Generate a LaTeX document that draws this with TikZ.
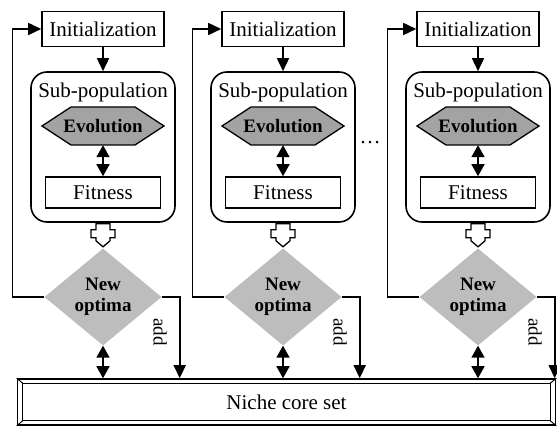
\documentclass[tikz,border=0pt]{standalone}
\usepackage{fontspec}
\setmainfont{Liberation Serif}
\usetikzlibrary{shapes.geometric,arrows.meta}

\tikzset{
  box/.style={draw, line width=1.6pt, inner sep=0pt},
  flow/.style={line width=1.6pt, -{Triangle[length=13pt,width=12pt]}},
  twoway/.style={line width=1.6pt, {Triangle[length=12pt,width=13pt]}-{Triangle[length=12pt,width=13pt]}},
  boldtxt/.style={font=\fontsize{19}{23}\selectfont\bfseries},
}

\begin{document}
\begin{tikzpicture}[x=1pt,y=-1pt,every node/.style={font=\fontsize{21}{24}\selectfont}]
\useasboundingbox (0,0) rectangle (557,427);

% niche core set
\node[box, minimum width=538, minimum height=46] (niche) at (286.5,402) {Niche core set};
\draw[line width=1.3pt] ([shift={(6,5)}]niche.north west) rectangle ([shift={(-6,-5)}]niche.south east);
\draw[line width=1pt] (niche.north west) -- ++(6,5);
\draw[line width=1pt] (niche.south west) -- ++(6,-5);
\draw[line width=1pt] (niche.north east) -- ++(-6,5);
\draw[line width=1pt] (niche.south east) -- ++(-6,-5);

\foreach \i/\x in {1/103,2/283,3/478} {
  \node[box, minimum width=122, minimum height=35] (init\i) at (\x,29) {Initialization};
  \node[box, rounded corners=16, minimum width=144, minimum height=150] (sub\i) at (\x,147) {};
  \node (name\i) at (\x,92) {Sub-population};
  % hexagon
  \filldraw[fill=gray!72, line width=1.3pt] (\x-61,126) -- (\x-32,107) -- (\x+32,107) -- (\x+61,126) -- (\x+32,145) -- (\x-32,145) -- cycle;
  \node[boldtxt, minimum width=122, minimum height=38, inner sep=0pt] (evo\i) at (\x,126) {Evolution};
  \node[box, minimum width=115, minimum height=31] (fit\i) at (\x,192.5) {Fitness};
  \node[diamond, fill=gray!52, minimum width=117, minimum height=97, inner sep=0pt, align=center, boldtxt] (opt\i) at (\x,297) {New\\[-2pt]optima};
  \draw[flow] (init\i) -- (sub\i);
  \draw[twoway] (evo\i) -- (fit\i);
  % hollow arrow
  \draw[line width=1.3pt, fill=white] ([shift={(-7,1)}]sub\i.south) -- ++(0,6) -- ++(-5,0) -- ++(0,8) -- ++(5,0) -- ++(0,3) -- ++(7,6) -- ++(7,-6) -- ++(0,-3) -- ++(5,0) -- ++(0,-8) -- ++(-5,0) -- ++(0,-6) -- cycle;
  \draw[flow] (opt\i.west) -- ++(-32,0) |- (init\i.west);
  \draw[flow] (opt\i.east) -| ([xshift=18]opt\i.east |- niche.north);
  \node[rotate=-90, font=\fontsize{19}{22}\selectfont] (add\i) at (\x+57,332) {add};
  \draw[twoway] (opt\i.south) -- (opt\i.south |- niche.north);
}

\node (dots) at (370,143) {\dots};
\end{tikzpicture}
\end{document}
